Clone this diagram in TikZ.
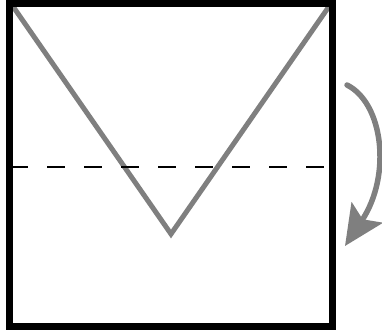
\documentclass[tikz,border=0pt]{standalone}
\usetikzlibrary{arrows.meta}
\definecolor{foldgray}{HTML}{7F7F7F}
\tikzset{
  paper/.style={draw=black,line width=6.5pt,line join=miter},
  crease/.style={draw=foldgray,line width=5pt,line join=miter},
  valley/.style={draw=black,line width=2pt,dash pattern=on 18pt off 19pt},
  turn/.style={draw=foldgray,line width=5.5pt,line cap=round,-{Stealth[length=40pt,width=37pt,inset=8pt]}}
}
\begin{document}
\begin{tikzpicture}[x=1pt,y=1pt]
\useasboundingbox (0,0) rectangle (382,335);
\coordinate (tl) at (9.5,331.5);
\coordinate (br) at (332.5,8.5);
\coordinate (vl) at (12,330);
\coordinate (vb) at (171,101);
\coordinate (vr) at (330,330);
\coordinate (dl) at (10,168.5);
\coordinate (dr) at (332.5,168.5);
\coordinate (as) at (347,250);
\coordinate (ae) at (345,89);
\path[crease] (vl) -- (vb) -- (vr);
\path[valley] (dl) -- (dr);
\path[paper] (tl) rectangle (br);
\path[turn] (as) .. controls (383,232) and (392,160) .. (ae);
\end{tikzpicture}
\end{document}
